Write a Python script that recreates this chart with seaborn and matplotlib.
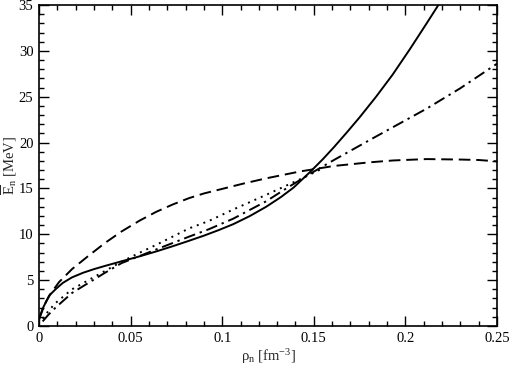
import numpy as np
import pandas as pd
import matplotlib
matplotlib.use("Agg")
import matplotlib.pyplot as plt
import seaborn as sns
from matplotlib.ticker import MultipleLocator

# ---- data ----
solid_x = [0.0, 0.002, 0.004, 0.006, 0.009, 0.013, 0.018, 0.024, 0.030, 0.036, 0.045, 0.055,
           0.064, 0.073, 0.082, 0.090, 0.098, 0.106, 0.115, 0.124, 0.132, 0.139, 0.148,
           0.155, 0.161, 0.168, 0.175, 0.184, 0.193, 0.2025, 0.2116, 0.218, 0.221]
solid_y = [0.8, 1.9, 2.7, 3.4, 4.0, 4.7, 5.3, 5.8, 6.2, 6.55, 7.05, 7.6,
           8.13, 8.7, 9.3, 9.85, 10.45, 11.1, 11.98, 13.0, 14.05, 15.1, 16.8,
           18.2, 19.5, 21.1, 22.75, 25.0, 27.4, 30.2, 33.0, 35.0, 36.0]

dashed_x = [0.0, 0.003, 0.0055, 0.011, 0.018, 0.027, 0.036, 0.045, 0.055, 0.064, 0.073,
            0.082, 0.090, 0.100, 0.112, 0.124, 0.1425, 0.161, 0.1807, 0.1934, 0.2116,
            0.2298, 0.240, 0.250]
dashed_y = [0.7, 2.3, 3.3, 4.8, 6.2, 7.65, 9.05, 10.3, 11.5, 12.45, 13.25,
            13.95, 14.45, 14.95, 15.55, 16.1, 16.85, 17.45, 17.85, 18.05, 18.2,
            18.15, 18.1, 17.95]

dotted_x = [0.002, 0.005, 0.009, 0.018, 0.027, 0.036, 0.045, 0.0545, 0.064, 0.073,
            0.082, 0.0927, 0.106, 0.124, 0.1425, 0.155]
dotted_y = [0.8, 1.6, 2.5, 4.0, 5.0, 6.0, 7.0, 7.95, 8.85, 9.75,
            10.65, 11.45, 12.7, 14.3, 16.0, 17.2]

dashdot_x = [0.002, 0.005, 0.009, 0.018, 0.027, 0.036, 0.045, 0.0545, 0.064, 0.073,
             0.082, 0.0927, 0.106, 0.124, 0.135, 0.148, 0.161, 0.1807, 0.1934, 0.2116,
             0.2298, 0.250]
dashdot_y = [0.5, 1.2, 2.0, 3.6, 4.7, 5.8, 6.85, 7.6, 8.35, 9.05,
             9.75, 10.55, 11.7, 13.6, 15.0, 16.6, 18.1, 20.3, 21.7, 23.7,
             25.9, 28.6]

x_ticks = [0, 0.05, 0.1, 0.15, 0.2, 0.25]
x_ticklabels = ["0", "0.05", "0.1", "0.15", "0.2", "0.25"]
y_ticks = [0, 5, 10, 15, 20, 25, 30, 35]

sns.set_style("ticks")
plt.rcParams['font.family'] = ['Liberation Serif', 'DejaVu Serif']
plt.rcParams['mathtext.fontset'] = 'custom'
plt.rcParams['mathtext.rm'] = 'Liberation Serif'
plt.rcParams['mathtext.it'] = 'Liberation Serif:italic'

fig = plt.figure(figsize=(5.10, 3.65), dpi=100)
ax = fig.add_axes([39/510, 1-326/365, (497-39)/510, (326-5)/365])

styles = [
    (solid_x, solid_y, '-'),
    (dashed_x, dashed_y, (0, (6, 3))),
    (dotted_x, dotted_y, (0, (1, 2.6))),
    (dashdot_x, dashdot_y, (0, (6, 2.5, 1.2, 2.5))),
]
for xs, ys, ls in styles:
    df = pd.DataFrame({"x": xs, "y": ys})
    sns.lineplot(data=df, x="x", y="y", ax=ax, color="black", linestyle=ls,
                 linewidth=1.4, estimator=None, sort=False)

ax.set_xlim(0, 0.25)
ax.set_ylim(0, 35)
ax.set_xticks(x_ticks)
ax.set_xticklabels(x_ticklabels)
ax.set_yticks(y_ticks)
ax.xaxis.set_minor_locator(MultipleLocator(0.01))
ax.yaxis.set_minor_locator(MultipleLocator(1))
ax.tick_params(which='both', direction='in', top=True, right=True, colors='black',
               labelsize=10.5, width=1.0)
ax.tick_params(which='major', length=7, pad=4)
ax.tick_params(which='minor', length=3.5)
for s in ax.spines.values():
    s.set_linewidth(1.2)
    s.set_color('black')

ax.set_xlabel(r'ρ$_\mathrm{n}$ [fm$^{-3}$]', fontsize=10.5)
ax.set_ylabel(r'$\overline{\mathrm{E}}_\mathrm{n}$ [MeV]', fontsize=10.5)
ax.xaxis.set_label_coords(0.5, -0.066)
ax.yaxis.set_label_coords(-0.044, 0.5)

fig.savefig("out.png", dpi=100)
